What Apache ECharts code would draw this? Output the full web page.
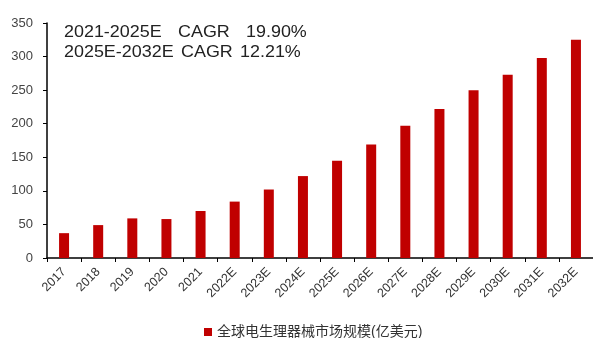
<!DOCTYPE html>
<html>
<head>
<meta charset="utf-8">
<script src="https://cdn.jsdelivr.net/npm/echarts@6/dist/echarts.min.js"></script>
<style>
  html, body { margin: 0; padding: 0; background: #fff; }
  #chart { width: 593px; height: 338px; }
</style>
</head>
<body>
<div id="chart"></div>
<script>
// Global electrophysiology device market size (100M USD)
const years = ['2017', '2018', '2019', '2020', '2021', '2022E', '2023E', '2024E',
  '2025E', '2026E', '2027E', '2028E', '2029E', '2030E', '2031E', '2032E'];
const marketSize = [37, 49, 59, 58, 70, 84, 102, 122, 145, 169, 197, 222, 250, 273, 298, 325];
const seriesName = '全球电生理器械市场规模(亿美元)';
const cagrRows = [
  ['2021-2025E', 'CAGR', '19.90%'],
  ['2025E-2032E', 'CAGR', '12.21%']
];
const yTicks = { min: 0, max: 350, interval: 50 };

const font = '"Liberation Sans", Arial, "Noto Sans CJK SC", sans-serif';
const chart = echarts.init(document.getElementById('chart'));

// CAGR annotation, column by column (slightly widened glyphs)
const colX = [[64, 178, 246], [64, 181, 240]];
const rowY = [25, 45];
const cagrText = [];
cagrRows.forEach((row, r) => {
  row.forEach((t, c) => {
    cagrText.push({
      type: 'text', x: colX[r][c], y: rowY[r], scaleX: 1.12,
      style: { text: t, fill: '#222', font: '16px ' + font }
    });
  });
});

chart.setOption({
  animation: false,
  textStyle: { fontFamily: font },
  grid: { left: 47, top: 23, width: 547, height: 235, containLabel: false },
  legend: {
    data: [seriesName], left: 204, top: 325, padding: 0,
    itemWidth: 8, itemHeight: 8, itemGap: 4, icon: 'rect',
    textStyle: { fontSize: 14, color: '#333', fontFamily: font }
  },
  xAxis: {
    type: 'category', data: years,
    axisLine: { lineStyle: { color: '#000', width: 1.5 } },
    axisTick: { show: true, alignWithLabel: false, length: 4, lineStyle: { color: '#000' } },
    axisLabel: { rotate: 45, fontSize: 12.5, color: '#333', margin: 12, interval: 0 }
  },
  yAxis: {
    type: 'value', min: yTicks.min, max: yTicks.max, interval: yTicks.interval,
    splitLine: { show: false },
    axisLine: { show: true, lineStyle: { color: '#000', width: 1.5 } },
    axisTick: { show: true, length: 4, lineStyle: { color: '#000' } },
    axisLabel: { fontSize: 13, color: '#444', margin: 14 }
  },
  series: [{
    name: seriesName, type: 'bar', data: marketSize, barWidth: 10,
    itemStyle: { color: '#C00000' }
  }],
  graphic: cagrText
});
</script>
</body>
</html>
